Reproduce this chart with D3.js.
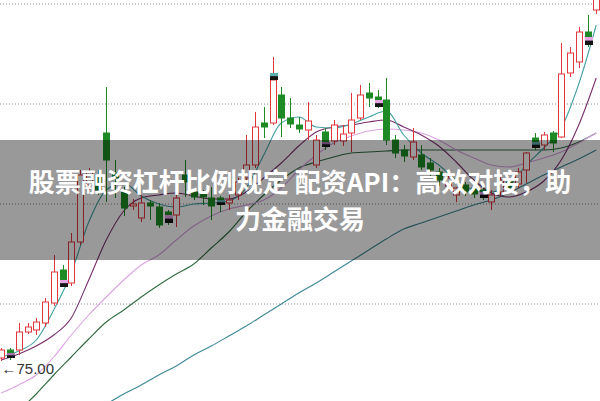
<!DOCTYPE html>
<html>
<head>
<meta charset="utf-8">
<script src="https://cdn.jsdelivr.net/npm/d3@7"></script>
<style>
html, body { margin: 0; padding: 0; background: #fff; overflow: hidden; }
svg { display: block; }
</style>
</head>
<body>
<div id="chart"></div>
<script>
// daily candles
const opens  = [75.15,75.55,75.55,76.45,76.55,76.90,77.90,79.55,78.90,80.95,83.80,84.30,86.40,84.40,83.45,82.75,82.15,82.90,82.70,82.45,82.30,84.30,83.45,83.35,83.15,83.15,82.90,83.30,84.15,84.80,86.90,86.90,88.30,87.15,86.80,86.55,84.80,86.45,86.00,86.00,86.40,87.15,88.40,88.20,88.05,86.05,85.55,85.20,85.30,84.90,84.45,83.75,83.30,83.80,83.65,83.55,82.95,83.45,83.95,83.85,84.55,86.15,85.80,86.40,86.20,89.40,89.95,91.45,92.55];
const highs  = [75.65,75.65,76.90,76.90,77.15,78.15,80.30,79.80,81.40,84.55,84.65,84.55,88.70,85.05,83.70,83.10,83.30,83.05,82.90,82.55,83.70,85.05,83.65,83.55,83.70,83.25,83.30,84.15,86.30,87.45,87.70,90.20,88.70,88.15,87.20,87.95,86.30,86.65,87.05,86.80,88.40,88.80,88.90,88.55,89.15,86.30,85.80,86.65,85.80,85.15,84.65,84.35,83.70,83.95,83.80,83.65,83.55,84.25,84.15,84.65,85.45,86.40,86.45,86.50,90.90,90.70,91.70,92.30,94.30];
const lows   = [75.00,75.05,75.30,76.35,76.30,76.70,77.75,78.70,78.75,80.80,83.55,83.30,82.95,83.15,82.25,82.55,81.95,82.05,81.65,81.80,81.70,83.20,83.05,82.80,82.05,82.45,82.55,83.05,84.05,84.65,86.15,86.80,86.20,86.65,86.40,86.05,84.65,85.55,85.80,85.75,85.45,87.05,87.70,87.65,85.80,85.15,84.95,85.05,84.55,84.15,83.75,83.55,82.95,83.25,83.15,83.05,82.55,83.25,83.45,83.65,83.90,85.55,85.55,85.45,86.15,89.20,89.65,90.70,92.35];
const closes = [75.55,75.40,76.45,76.70,76.95,77.95,79.45,79.05,80.95,84.30,84.45,83.55,85.05,84.15,82.65,82.85,82.90,82.75,81.80,82.30,83.15,83.95,83.20,83.20,82.75,83.05,83.05,83.95,84.80,86.70,86.70,89.05,87.15,86.85,86.60,87.00,86.05,85.95,86.80,86.35,87.05,88.30,88.15,88.05,86.05,85.40,85.25,85.95,84.70,84.55,84.05,84.15,83.65,83.45,83.35,83.45,83.30,84.05,83.65,84.45,85.40,85.95,86.30,85.90,89.35,90.40,91.45,91.20,94.05];

// small event flags sitting on some candles
const markIdx = [1, 7, 19, 25, 31, 37, 43, 55, 61, 67];
const markHi  = [75.40, 79.05, 82.30, 83.05, 89.40, 85.95, 88.05, 83.45, 85.95, 91.20];
const markLo  = [75.15, 78.70, 81.90, 82.80, 89.05, 85.70, 87.70, 83.15, 85.65, 90.80];
const markCol = ["#a874b4", "#e6a6e6", "#e6a6e6", "#5fb0b0", "#5fb0b0", "#a874b4", "#e6a6e6", "#e6a6e6", "#5fb0b0", "#e6a6e6"];

// moving averages, read at every second candle
const maStep = 2;
const ma5  = [75.20,75.50,76.05,77.55,79.40,81.95,83.55,83.90,83.25,82.85,82.70,82.85,82.90,83.00,83.65,85.30,86.90,87.20,86.70,86.65,86.85,87.20,87.50,86.30,85.40,84.80,84.05,83.55,83.45,83.75,84.80,85.65,86.65,88.85,91.80];
const ma10 = [75.05,75.35,75.75,76.30,77.15,79.05,81.05,82.50,83.15,83.30,83.40,83.25,83.10,83.10,83.45,84.15,84.90,85.75,86.45,86.70,86.80,86.95,87.05,86.70,86.30,85.75,84.95,84.05,83.40,83.20,83.45,84.00,85.05,86.80,89.15];
const ma20 = [73.40,73.80,74.30,75.20,76.30,77.30,78.20,79.05,79.80,80.30,81.05,81.75,82.25,82.60,82.80,83.05,83.65,84.55,85.30,85.90,86.25,86.50,86.60,86.55,86.40,86.05,85.55,85.15,84.80,84.70,84.90,85.15,85.45,85.90,86.40];
const ma30 = [71.55,72.50,73.35,74.30,75.20,76.10,76.95,77.55,78.20,78.80,79.35,79.85,80.65,81.45,82.45,83.30,84.05,84.65,84.95,85.20,85.40,85.45,85.50,85.55,85.55,85.55,85.55,85.55,85.55,85.55,85.55,85.55,85.65,85.95,86.40];
const ma60 = [70.05,70.50,71.00,71.50,71.95,72.45,72.85,73.35,73.80,74.30,74.75,75.30,75.75,76.25,76.75,77.30,77.85,78.40,78.90,79.45,80.00,80.55,81.10,81.60,81.90,82.20,82.50,82.80,83.05,83.40,83.85,84.30,84.70,85.10,85.55];

const gridPrices = [77.9, 82.9, 87.9, 92.9];
const titleLines = ["股票融资杠杆比例规定 配资API：高效对接，助", "力金融交易"];

const width = 600,
      height = 401;

const svg = d3.select("#chart")
  .append("svg")
  .attr("width", width)
  .attr("height", height)
  .attr("viewBox", [0, 0, width, height]);

const x = d3.scalePoint()
  .domain(d3.range(closes.length))
  .range([1.25, 596.25]);

const y = d3.scaleLinear()
  .domain([73, 93.05])
  .range([height, 0]);

svg.append("defs").append("clipPath")
  .attr("id", "plot")
  .append("rect")
  .attr("width", width)
  .attr("height", height);

// dotted horizontal grid
const grid = svg.append("g")
  .attr("class", "grid")
  .call(d3.axisRight(y).tickValues(gridPrices).tickSize(width).tickFormat(""));
grid.select(".domain").remove();
grid.selectAll("line")
  .attr("stroke", "#8a8a8a")
  .attr("stroke-dasharray", "1,2")
  .attr("transform", "translate(0,0.5)");

// moving average lines
const plot = svg.append("g").attr("clip-path", "url(#plot)");

const maLine = d3.line()
  .x((d, k) => x(k * maStep))
  .y(d => y(d))
  .curve(d3.curveMonotoneX);

[[ma60, "#3d8894"], [ma30, "#2f6b3f"], [ma20, "#dba3e3"], [ma10, "#7a2f6c"], [ma5, "#45a2a2"]]
  .forEach(([vals, col]) => {
    plot.append("path")
      .datum(vals)
      .attr("fill", "none")
      .attr("stroke", col)
      .attr("stroke-width", 1.1)
      .attr("d", maLine);
  });

// candles
const up = "#e0363c",
      down = "#1e8a26";
const cx = i => Math.round(x(i));

const candles = plot.append("g")
  .selectAll("g")
  .data(d3.range(closes.length))
  .join("g");

candles.append("line")
  .attr("x1", i => cx(i) + 0.5)
  .attr("x2", i => cx(i) + 0.5)
  .attr("y1", i => y(highs[i]))
  .attr("y2", i => y(lows[i]))
  .attr("stroke", i => closes[i] >= opens[i] ? up : down);

candles.append("rect")
  .attr("x", i => cx(i) - 2.5)
  .attr("width", 6)
  .attr("y", i => y(Math.max(opens[i], closes[i])))
  .attr("height", i => Math.max(1, Math.abs(y(opens[i]) - y(closes[i]))))
  .attr("fill", i => closes[i] >= opens[i] ? "#fff" : down)
  .attr("stroke", i => closes[i] >= opens[i] ? up : down);

// flags
const marks = plot.append("g")
  .selectAll("g")
  .data(markIdx)
  .join("g");

marks.append("rect")
  .attr("x", i => cx(i) - 3)
  .attr("width", 8)
  .attr("y", (i, k) => y(markHi[k]))
  .attr("height", (i, k) => y(markLo[k]) - y(markHi[k]))
  .attr("fill", "#141414");

marks.append("rect")
  .attr("x", i => cx(i) - 3)
  .attr("width", 8)
  .attr("y", (i, k) => y(markHi[k]))
  .attr("height", (i, k) => (y(markLo[k]) - y(markHi[k])) * 0.45)
  .attr("fill", (i, k) => markCol[k]);

// lowest price label
const lowI = d3.minIndex(lows);
svg.append("text")
  .attr("x", cx(lowI) + 0.5)
  .attr("y", y(lows[lowI]) + 13)
  .attr("font-family", "'Liberation Sans', Arial, sans-serif")
  .attr("font-size", 15)
  .attr("fill", "#333")
  .text("←" + lows[lowI].toFixed(2));

// title band
svg.append("rect")
  .attr("x", 0)
  .attr("y", 140)
  .attr("width", width)
  .attr("height", 120)
  .attr("fill", "rgba(0,0,0,0.4)");

svg.append("g")
  .selectAll("text")
  .data(titleLines)
  .join("text")
  .attr("x", width / 2)
  .attr("y", (d, k) => 192 + k * 37)
  .attr("text-anchor", "middle")
  .attr("font-family", "'Noto Sans CJK SC', 'Noto Sans', sans-serif")
  .attr("font-weight", 700)
  .attr("font-size", 26)
  .attr("fill", "#fff")
  .text(d => d);
</script>
</body>
</html>
